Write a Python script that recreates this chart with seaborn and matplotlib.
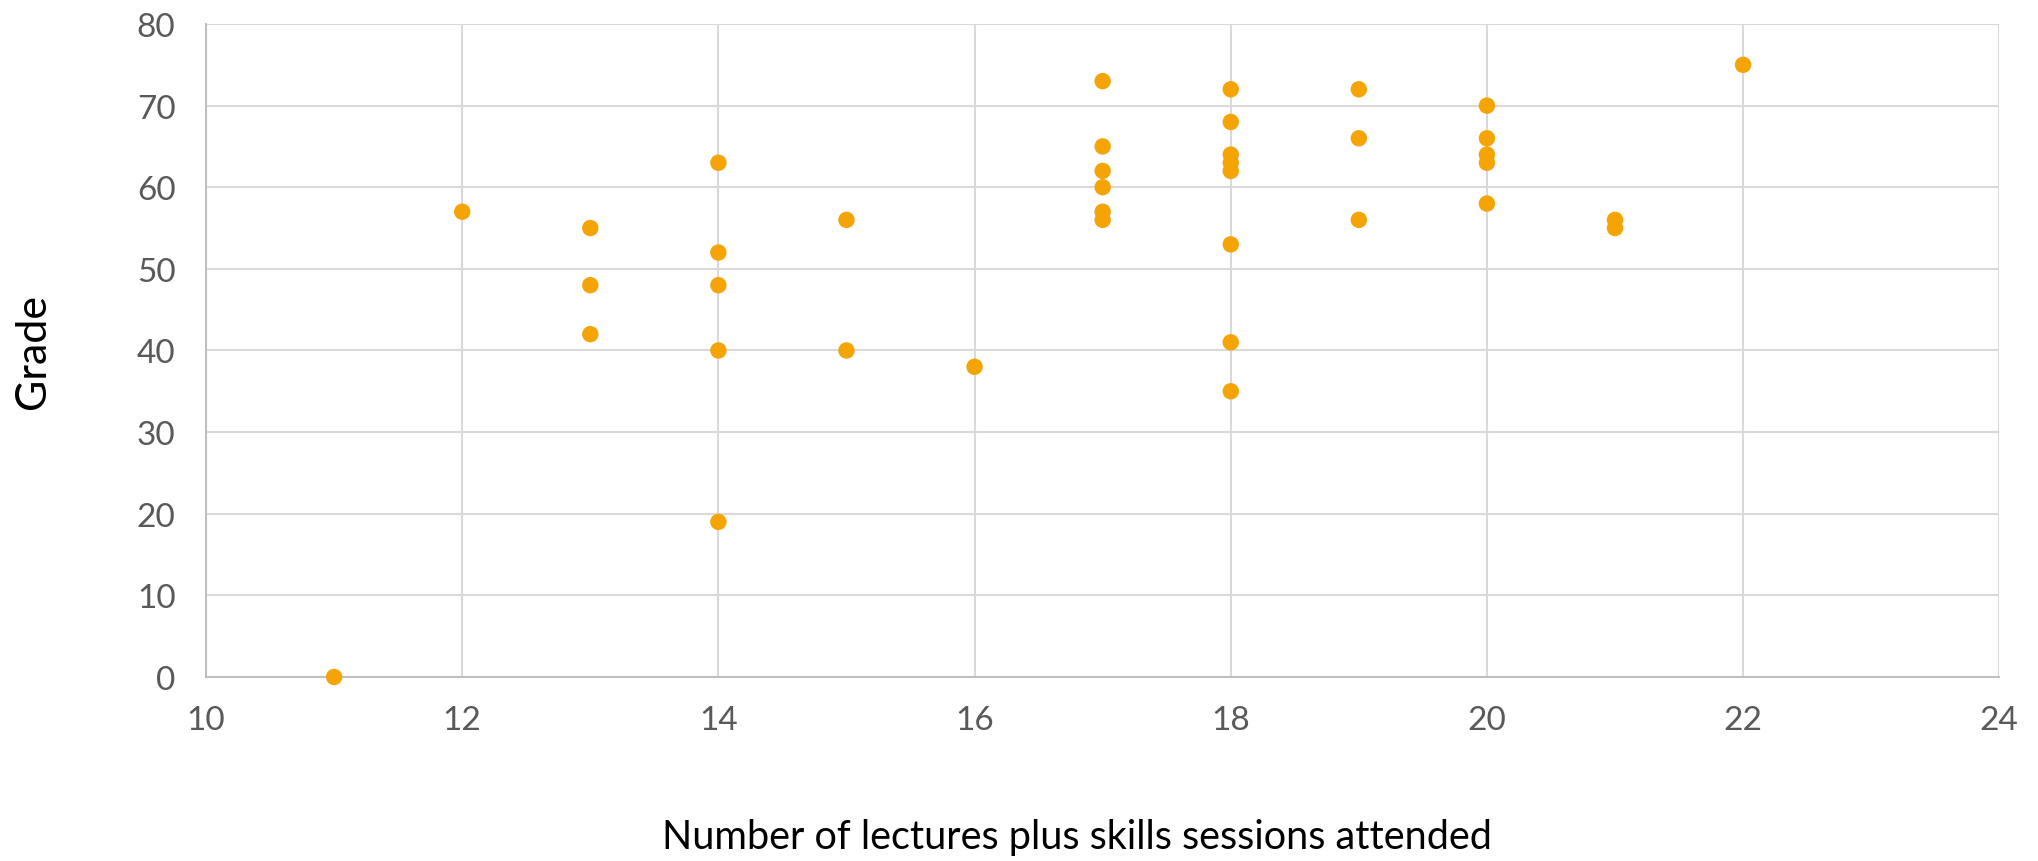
import pandas as pd
import seaborn as sns
import matplotlib.pyplot as plt

# sessions attended (x) and grade (y)
attended = [11,
            12,
            13, 13, 13,
            14, 14, 14, 14, 14,
            15, 15,
            16,
            17, 17, 17, 17, 17, 17,
            18, 18, 18, 18, 18, 18, 18, 18,
            19, 19, 19,
            20, 20, 20, 20, 20,
            21, 21,
            22]
grade = [0,
         57,
         55, 48, 42,
         63, 52, 48, 40, 19,
         56, 40,
         38,
         73, 65, 62, 60, 57, 56,
         72, 68, 64, 63, 62, 53, 41, 35,
         72, 66, 56,
         70, 66, 64, 63, 58,
         56, 55,
         75]

x_ticks = [10, 12, 14, 16, 18, 20, 22, 24]
y_ticks = [0, 10, 20, 30, 40, 50, 60, 70, 80]

df = pd.DataFrame({"attended": attended, "grade": grade})

sns.set_style("white")
plt.rcParams['font.family'] = ['Lato', 'DejaVu Sans']

fig = plt.figure(figsize=(20.38, 8.62), dpi=100)
ax = fig.add_axes([0.1011, 0.2135, 0.8799, 0.7575])

sns.scatterplot(data=df, x="attended", y="grade", color="#F4A405", s=140,
                edgecolor="none", ax=ax, clip_on=False, zorder=3)

ax.set_xlim(10, 24)
ax.set_ylim(0, 80)
ax.set_xticks(x_ticks)
ax.set_yticks(y_ticks)
ax.grid(True, color="#D9D9D9", linewidth=1.5)
ax.set_axisbelow(True)

for side in ["top", "right"]:
    ax.spines[side].set_visible(False)
for side in ["left", "bottom"]:
    ax.spines[side].set_color("#BFBFBF")
    ax.spines[side].set_linewidth(1.5)
    ax.spines[side].set_zorder(2)

ax.tick_params(axis="both", length=0, labelsize=24, labelcolor="#595959")
ax.tick_params(axis="y", pad=22)
ax.tick_params(axis="x", pad=20)

ax.set_xlabel("Number of lectures plus skills sessions attended", fontsize=28.5, color="black")
ax.set_ylabel("Grade", fontsize=31, color="black")
ax.xaxis.label.set_va("center")
ax.yaxis.label.set_va("center")
ax.xaxis.set_label_coords(0.4855, -0.245)
ax.yaxis.set_label_coords(-0.0965, 0.5)

plt.savefig("out.png", dpi=100)
